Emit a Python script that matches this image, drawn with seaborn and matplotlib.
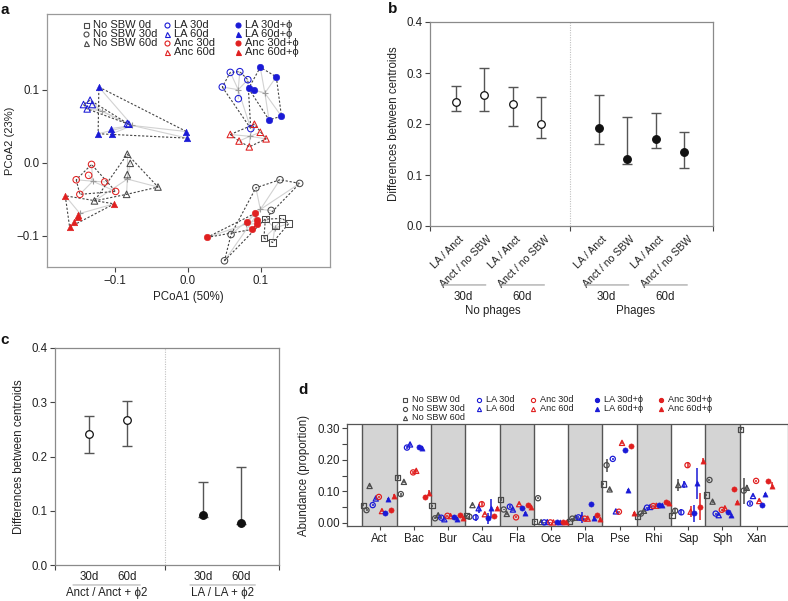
import numpy as np
import pandas as pd
import matplotlib
matplotlib.use("Agg")
import matplotlib.pyplot as plt
import seaborn as sns
from matplotlib.lines import Line2D
from matplotlib.ticker import FixedLocator, MultipleLocator, NullFormatter

# ------------------------------------------------------------------ data
group_names = ["No SBW 0d", "No SBW 30d", "No SBW 60d", "LA 30d", "LA 60d",
               "Anc 30d", "Anc 60d", "LA 30d+ϕ", "LA 60d+ϕ", "Anc 30d+ϕ", "Anc 60d+ϕ"]

# panel a : PCoA coordinates per group
a_nosbw0_x = [0.106, 0.129, 0.120, 0.138, 0.104, 0.116]
a_nosbw0_y = [-0.077, -0.076, -0.086, -0.083, -0.103, -0.109]
a_nosbw30_x = [0.093, 0.126, 0.153, 0.114, 0.059, 0.050]
a_nosbw30_y = [-0.034, -0.023, -0.028, -0.065, -0.098, -0.134]
a_nosbw60_x = [-0.083, -0.079, -0.083, -0.041, -0.084, -0.128]
a_nosbw60_y = [0.012, -0.0005, -0.016, -0.033, -0.043, -0.052]
a_la30_x = [0.058, 0.071, 0.082, 0.047, 0.069, 0.086]
a_la30_y = [0.124, 0.125, 0.114, 0.104, 0.088, 0.047]
a_la60_x = [-0.143, -0.134, -0.131, -0.138, -0.083, -0.081]
a_la60_y = [0.080, 0.086, 0.080, 0.074, 0.054, 0.053]
a_anc30_x = [-0.132, -0.136, -0.153, -0.114, -0.099, -0.148]
a_anc30_y = [-0.002, -0.017, -0.023, -0.026, -0.039, -0.043]
a_anc60_x = [0.058, 0.070, 0.084, 0.091, 0.099, 0.107]
a_anc60_y = [0.039, 0.030, 0.022, 0.053, 0.042, 0.033]
a_la30p_x = [0.099, 0.121, 0.083, 0.090, 0.111, 0.128]
a_la30p_y = [0.131, 0.118, 0.102, 0.100, 0.059, 0.064]
a_la60p_x = [-0.122, -0.123, -0.106, -0.104, -0.002, -0.001]
a_la60p_y = [0.104, 0.040, 0.047, 0.040, 0.043, 0.034]
a_anc30p_x = [0.026, 0.092, 0.081, 0.095, 0.094, 0.088]
a_anc30p_y = [-0.102, -0.069, -0.081, -0.083, -0.078, -0.091]
a_anc60p_x = [-0.168, -0.150, -0.151, -0.156, -0.162, -0.101]
a_anc60p_y = [-0.045, -0.071, -0.074, -0.081, -0.088, -0.056]

# panel b : differences between centroids
b_labels = ["LA / Anct", "Anct / no SBW", "LA / Anct", "Anct / no SBW",
            "LA / Anct", "Anct / no SBW", "LA / Anct", "Anct / no SBW"]
b_mean = [0.243, 0.257, 0.240, 0.200, 0.193, 0.131, 0.170, 0.145]
b_low = [0.226, 0.226, 0.197, 0.173, 0.160, 0.121, 0.153, 0.113]
b_high = [0.275, 0.310, 0.272, 0.253, 0.257, 0.213, 0.222, 0.185]
b_periods = ["30d", "60d", "30d", "60d"]
b_sections = ["No phages", "Phages"]

# panel c
c_mean = [0.241, 0.268, 0.092, 0.078]
c_low = [0.206, 0.220, 0.088, 0.076]
c_high = [0.274, 0.302, 0.153, 0.181]
c_ticklabels = ["30d", "60d", "30d", "60d"]
c_sections = ["Anct / Anct + ϕ2", "LA / LA + ϕ2"]

# panel d : abundance per taxon (Act .. Xan) for each group
d_taxa = ["Act", "Bac", "Bur", "Cau", "Fla", "Oce", "Pla", "Pse", "Rhi", "Sap", "Sph", "Xan"]
d_nosbw0 = [0.056, 0.143, 0.054, 0.022, 0.074, 0.004, 0.004, 0.123, 0.019, 0.024, 0.088, 0.297]
d_nosbw30 = [0.040, 0.091, 0.014, 0.019, 0.042, 0.078, 0.013, 0.183, 0.029, 0.038, 0.136, 0.102]
d_nosbw60 = [0.117, 0.130, 0.024, 0.056, 0.028, 0.002, 0.016, 0.106, 0.038, 0.120, 0.067, 0.111]
d_la30 = [0.056, 0.239, 0.016, 0.017, 0.051, 0.001, 0.017, 0.203, 0.048, 0.033, 0.029, 0.061]
d_la60 = [0.077, 0.249, 0.011, 0.046, 0.042, 0.002, 0.016, 0.036, 0.050, 0.122, 0.024, 0.085]
d_anc30 = [0.082, 0.160, 0.022, 0.059, 0.017, 0.001, 0.013, 0.035, 0.053, 0.183, 0.041, 0.133]
d_anc60 = [0.037, 0.165, 0.021, 0.027, 0.059, 0.001, 0.013, 0.254, 0.054, 0.035, 0.046, 0.069]
d_la30p = [0.032, 0.242, 0.019, 0.014, 0.048, 0.001, 0.059, 0.232, 0.056, 0.030, 0.035, 0.056]
d_la60p = [0.074, 0.239, 0.011, 0.046, 0.030, 0.001, 0.016, 0.104, 0.056, 0.125, 0.026, 0.090]
d_anc30p = [0.042, 0.083, 0.026, 0.021, 0.057, 0.001, 0.023, 0.244, 0.065, 0.051, 0.106, 0.132]
d_anc60p = [0.086, 0.095, 0.014, 0.048, 0.049, 0.002, 0.013, 0.030, 0.064, 0.197, 0.065, 0.118]
# error half-widths
d_nosbw0_err = [0.003, 0.004, 0.003, 0.003, 0.004, 0.002, 0.002, 0.004, 0.002, 0.003, 0.003, 0.003]
d_nosbw30_err = [0.003, 0.005, 0.003, 0.003, 0.003, 0.003, 0.002, 0.021, 0.003, 0.010, 0.004, 0.041]
d_nosbw60_err = [0.003, 0.004, 0.004, 0.003, 0.003, 0.002, 0.002, 0.004, 0.003, 0.020, 0.004, 0.010]
d_la30_err = [0.004, 0.005, 0.004, 0.010, 0.004, 0.001, 0.004, 0.004, 0.003, 0.010, 0.003, 0.004]
d_la60_err = [0.004, 0.006, 0.004, 0.015, 0.004, 0.001, 0.018, 0.003, 0.003, 0.012, 0.003, 0.004]
d_anc30_err = [0.004, 0.004, 0.003, 0.006, 0.003, 0.001, 0.003, 0.003, 0.003, 0.010, 0.003, 0.004]
d_anc60_err = [0.003, 0.005, 0.003, 0.004, 0.004, 0.001, 0.003, 0.004, 0.003, 0.017, 0.003, 0.004]
d_la30p_err = [0.004, 0.006, 0.004, 0.018, 0.003, 0.001, 0.003, 0.003, 0.003, 0.027, 0.003, 0.003]
d_la60p_err = [0.004, 0.005, 0.008, 0.030, 0.003, 0.004, 0.004, 0.003, 0.004, 0.050, 0.003, 0.003]
d_anc30p_err = [0.003, 0.005, 0.003, 0.003, 0.003, 0.001, 0.003, 0.003, 0.003, 0.042, 0.003, 0.004]
d_anc60p_err = [0.004, 0.008, 0.003, 0.003, 0.003, 0.001, 0.003, 0.003, 0.003, 0.010, 0.003, 0.010]

# ------------------------------------------------------------------ styles
GRAY, BLUE, RED = "#4a4a4a", "#1a1ad6", "#e02020"
g_marker = ["s", "o", "^", "o", "^", "o", "^", "o", "^", "o", "^"]
g_color = [GRAY, GRAY, GRAY, BLUE, BLUE, RED, RED, BLUE, BLUE, RED, RED]
g_filled = [False] * 7 + [True] * 4

a_xs = [a_nosbw0_x, a_nosbw30_x, a_nosbw60_x, a_la30_x, a_la60_x, a_anc30_x, a_anc60_x,
        a_la30p_x, a_la60p_x, a_anc30p_x, a_anc60p_x]
a_ys = [a_nosbw0_y, a_nosbw30_y, a_nosbw60_y, a_la30_y, a_la60_y, a_anc30_y, a_anc60_y,
        a_la30p_y, a_la60p_y, a_anc30p_y, a_anc60p_y]
d_vals = [d_nosbw0, d_nosbw30, d_nosbw60, d_la30, d_la60, d_anc30, d_anc60,
          d_la30p, d_la60p, d_anc30p, d_anc60p]
d_errs = [d_nosbw0_err, d_nosbw30_err, d_nosbw60_err, d_la30_err, d_la60_err, d_anc30_err,
          d_anc60_err, d_la30p_err, d_la60p_err, d_anc30p_err, d_anc60p_err]

FS = 8.3
sns.set_theme(style="white")
plt.rcParams["font.family"] = ["Liberation Sans", "DejaVu Sans"]
plt.rcParams.update({
    "font.size": FS, "axes.linewidth": 0.9, "xtick.direction": "out",
    "ytick.direction": "out", "xtick.major.size": 3.5, "ytick.major.size": 3.5,
    "xtick.major.width": 0.8, "ytick.major.width": 0.8, "xtick.color": "#333333",
    "ytick.color": "#333333", "xtick.labelsize": FS, "ytick.labelsize": FS,
    "axes.labelsize": FS, "axes.labelcolor": "#222222",
    "xtick.bottom": True, "ytick.left": True,
})

W, H = 788, 601
fig = plt.figure(figsize=(W / 100, H / 100), dpi=100)


def px_axes(l, t, r, b):
    ax = fig.add_axes([l / W, 1 - b / H, (r - l) / W, (b - t) / H])
    ax._px = (l, t, r, b)
    return ax


def ylabel_at(ax, text, right_px, fs=None):
    l, t, r, b = ax._px
    ax.set_ylabel(text, fontsize=fs if fs else FS)
    ax.yaxis.set_label_coords((right_px - l) / (r - l), 0.5)


def frame(ax, color):
    for s in ax.spines.values():
        s.set_visible(True)
        s.set_color(color)
        s.set_linewidth(0.9)
    ax.tick_params(colors="#444444", labelcolor="#222222", pad=2)


def convex_hull(pts):
    pts = sorted(set(pts))
    if len(pts) <= 2:
        return pts

    def cross(o, a, b):
        return (a[0] - o[0]) * (b[1] - o[1]) - (a[1] - o[1]) * (b[0] - o[0])
    lower, upper = [], []
    for p in pts:
        while len(lower) >= 2 and cross(lower[-2], lower[-1], p) <= 0:
            lower.pop()
        lower.append(p)
    for p in reversed(pts):
        while len(upper) >= 2 and cross(upper[-2], upper[-1], p) <= 0:
            upper.pop()
        upper.append(p)
    return lower[:-1] + upper[:-1]


def scatter(ax, x, y, gi, s, lw=0.8, zorder=4):
    c = g_color[gi]
    if g_filled[gi]:
        sns.scatterplot(x=x, y=y, ax=ax, marker=g_marker[gi], s=s, color=c,
                        edgecolor=c, linewidth=0.4, zorder=zorder, legend=False)
    else:
        sns.scatterplot(x=x, y=y, ax=ax, marker=g_marker[gi], s=s, color=c,
                        facecolors="none", edgecolor=c, linewidth=lw, zorder=zorder,
                        legend=False)


def legend_item(xp, yp, gi, label, fs, ms, gap):
    c = g_color[gi]
    ln = Line2D([xp / W], [1 - yp / H], transform=fig.transFigure, marker=g_marker[gi],
                markersize=ms, linestyle="none", markeredgecolor=c, markeredgewidth=0.8,
                markerfacecolor=c if g_filled[gi] else "none")
    fig.add_artist(ln)
    fig.text((xp + gap) / W, 1 - yp / H, label, fontsize=fs, color="#222222",
             va="center", ha="left")

# ------------------------------------------------------------------ panel a
axa = px_axes(47, 14, 330, 267)
for gi in range(11):
    xs, ys = np.array(a_xs[gi]), np.array(a_ys[gi])
    cx, cy = xs.mean(), ys.mean()
    for x, y in zip(xs, ys):
        axa.plot([x, cx], [y, cy], color="#d2d2d2", lw=0.8, zorder=1)
    hull = convex_hull(list(zip(xs, ys)))
    hx = [p[0] for p in hull] + [hull[0][0]]
    hy = [p[1] for p in hull] + [hull[0][1]]
    axa.plot(hx, hy, color="#444444", lw=0.8, linestyle=(0, (2.0, 1.6)), zorder=2)
    axa.plot([cx], [cy], marker="+", color="#9a9a9a", markersize=5, mew=0.8, zorder=3)
    scatter(axa, xs, ys, gi, s=22, lw=0.75)
axa.set_xlim(-0.193, 0.1945)
axa.set_ylim(-0.1425, 0.204)
axa.xaxis.set_major_locator(FixedLocator([-0.1, 0.0, 0.1]))
axa.yaxis.set_major_locator(FixedLocator([-0.1, 0.0, 0.1]))
frame(axa, "#9a9a9a")
axa.set_xlabel("PCoA1 (50%)", labelpad=3)
ylabel_at(axa, "PCoA2 (23%)", 15, fs=8)
axa.set_xticklabels(["−0.1", "0.0", "0.1"])
axa.set_yticklabels(["−0.1", "0.0", "0.1"])

a_leg_cols = [(86, [0, 1, 2]), (167, [3, 4, 5, 6]), (238, [7, 8, 9, 10])]
a_leg_rows = [25, 34.3, 43.3, 52.3]
for xp, idxs in a_leg_cols:
    for r, gi in enumerate(idxs):
        legend_item(xp, a_leg_rows[r], gi, group_names[gi], 8, 3.6, 7)

# ------------------------------------------------------------------ panel b / c helper


def centroid_panel(ax, pos, mean, low, high, filled, xlim, mid):
    for p, m, lo, hi, f in zip(pos, mean, low, high, filled):
        ax.errorbar([p], [m], yerr=[[m - lo], [hi - m]], fmt="none", ecolor="#555555",
                    elinewidth=1.0, capsize=3.6, capthick=1.0, zorder=2)
    df = pd.DataFrame({"x": pos, "y": mean, "f": filled})
    sns.scatterplot(data=df[df.f == False], x="x", y="y", ax=ax, marker="o", s=30,
                    color="white", edgecolor="#111111", linewidth=0.9, zorder=3, legend=False)
    sns.scatterplot(data=df[df.f == True], x="x", y="y", ax=ax, marker="o", s=30,
                    color="#111111", edgecolor="#111111", linewidth=0.9, zorder=3, legend=False)
    ax.axvline(mid, color="#c0c0c0", lw=0.8, linestyle=(0, (1, 1.2)), zorder=1)
    ax.set_xlim(*xlim)
    ax.set_ylim(0, 0.4)
    ax.yaxis.set_major_locator(MultipleLocator(0.1))
    ax.yaxis.set_major_formatter(matplotlib.ticker.FormatStrFormatter("%.1f"))
    ax.xaxis.set_major_locator(FixedLocator([xlim[0], mid, xlim[1]]))
    ax.xaxis.set_major_formatter(NullFormatter())
    ax.set_xlabel("")
    frame(ax, "#8a8a8a")


# ------------------------------------------------------------------ panel b
axb = px_axes(430, 22, 713, 226)
b_pos = [1, 2, 3, 4, 6, 7, 8, 9]
centroid_panel(axb, b_pos, b_mean, b_low, b_high, [False] * 4 + [True] * 4, (0.1, 10), 5)
ylabel_at(axb, "Differences between centroids", 400)
for p, lab in zip(b_pos, b_labels):
    axb.annotate(lab, xy=(p, 0), xycoords=("data", "axes fraction"), xytext=(2, -6),
                 textcoords="offset points", rotation=45, ha="right", va="top",
                 rotation_mode="anchor", fontsize=7.6, color="#222222")
b_line_spans = [(0.4, 2.15), (2.45, 4.2), (5.4, 7.15), (7.45, 9.2)]
for (x0, x1), lab in zip(b_line_spans, b_periods * 2):
    axb.annotate("", xy=(x0, -0.289), xytext=(x1, -0.289),
                 xycoords=("data", "axes fraction"), textcoords=("data", "axes fraction"),
                 arrowprops=dict(arrowstyle="-", color="#9a9a9a", lw=0.8))
    axb.text((x0 + x1) / 2, -0.35, lab, transform=axb.get_xaxis_transform(),
             ha="center", va="center", fontsize=FS, color="#222222")
axb.text(2.3, -0.418, b_sections[0], transform=axb.get_xaxis_transform(),
         ha="center", va="center", fontsize=FS, color="#222222")
axb.text(7.3, -0.418, b_sections[1], transform=axb.get_xaxis_transform(),
         ha="center", va="center", fontsize=FS, color="#222222")

# ------------------------------------------------------------------ panel c
axc = px_axes(55, 348, 279, 565)
c_pos = [1, 2, 4, 5]
centroid_panel(axc, c_pos, c_mean, c_low, c_high, [False, False, True, True], (0.1, 6), 3)
ylabel_at(axc, "Differences between centroids", 25)
for p, lab in zip(c_pos, c_ticklabels):
    axc.text(p, -0.055, lab, transform=axc.get_xaxis_transform(), ha="center",
             va="center", fontsize=FS, color="#222222")
c_line_spans = [(0.5, 2.42), (3.58, 5.45)]
for (x0, x1), lab in zip(c_line_spans, c_sections):
    axc.annotate("", xy=(x0, -0.092), xytext=(x1, -0.092),
                 xycoords=("data", "axes fraction"), textcoords=("data", "axes fraction"),
                 arrowprops=dict(arrowstyle="-", color="#b0b0b0", lw=0.8))
    axc.text((x0 + x1) / 2, -0.13, lab, transform=axc.get_xaxis_transform(),
             ha="center", va="center", fontsize=FS, color="#222222")

# ------------------------------------------------------------------ panel d
axd = px_axes(347.3, 424.3, 788, 525.7)
n_taxa = len(d_taxa)
for i in range(n_taxa):
    if i % 2 == 0:
        axd.axvspan(i + 0.5, i + 1.5, color="#d4d4d4", zorder=0, lw=0)
for i in range(n_taxa):
    axd.axvline(i + 0.5, color="#555555", lw=1.0, zorder=1)
offsets = [-0.47 + 0.09 * k for k in range(11)]
for gi in range(11):
    xs = np.arange(1, n_taxa + 1) + offsets[gi]
    axd.errorbar(xs, d_vals[gi], yerr=d_errs[gi], fmt="none", ecolor=g_color[gi],
                 elinewidth=1.1, capsize=0, zorder=2)
    scatter(axd, xs, d_vals[gi], gi, s=14, lw=0.9, zorder=3)
axd.set_xlim(0.06, 12.91)
axd.set_ylim(-0.0095, 0.313)
axd.xaxis.set_major_locator(FixedLocator(list(range(1, n_taxa + 1))))
axd.set_xticklabels(d_taxa)
axd.yaxis.set_major_locator(FixedLocator([0.0, 0.1, 0.2, 0.3]))
axd.yaxis.set_minor_locator(FixedLocator([0.05, 0.15, 0.25]))
axd.yaxis.set_major_formatter(matplotlib.ticker.FormatStrFormatter("%.2f"))
axd.tick_params(axis="y", which="minor", left=True, length=3.5, width=0.8, color="#444444")
axd.tick_params(axis="x", length=3.0, pad=4)
axd.set_xlabel("")
frame(axd, "#555555")
ylabel_at(axd, "Abundance (proportion)", 310)

d_leg_cols = [(405, [0, 1, 2]), (479, [3, 4]), (533, [5, 6]), (597, [7, 8]), (661, [9, 10])]
d_leg_rows = [400, 408.7, 418]
for xp, idxs in d_leg_cols:
    for r, gi in enumerate(idxs):
        legend_item(xp, d_leg_rows[r], gi, group_names[gi], 6.6, 3.0, 7)

# ------------------------------------------------------------------ panel letters
for lab, xp, yp in [("a", 5, 10), ("b", 393, 9), ("c", 5, 340), ("d", 303, 390)]:
    fig.text(xp / W, 1 - yp / H, lab, fontsize=11, fontweight="bold", ha="center",
             va="center", color="#111111")

fig.savefig("out.png", dpi=100)
